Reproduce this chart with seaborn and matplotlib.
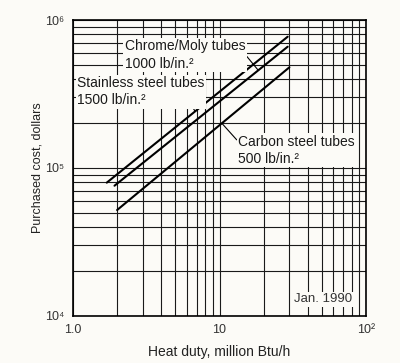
import pandas as pd
import seaborn as sns
import matplotlib.pyplot as plt

sns.set_style('white')
plt.rcParams['font.family'] = ['Liberation Sans', 'DejaVu Sans']

# end points of each cost line (log-log straight lines)
stainless_duty = [1.70, 29.2]
stainless_cost = [79600, 771000]
chrome_duty = [1.92, 29.2]
chrome_cost = [75900, 660000]
carbon_duty = [2.0, 30.0]
carbon_cost = [52000, 479000]

x_ticks = [1, 10, 100]
x_tick_labels = ['1.0', '10', '10²']
y_ticks = [1e4, 1e5, 1e6]
y_tick_labels = ['10⁴', '10⁵', '10⁶']

bg = '#fcfbf7'

df = pd.concat([
    pd.DataFrame({'duty': stainless_duty, 'cost': stainless_cost, 'tube': 'Stainless'}),
    pd.DataFrame({'duty': chrome_duty, 'cost': chrome_cost, 'tube': 'Chrome/Moly'}),
    pd.DataFrame({'duty': carbon_duty, 'cost': carbon_cost, 'tube': 'Carbon'}),
])

fig = plt.figure(figsize=(4, 3.63), dpi=100, facecolor=bg)
ax = fig.add_axes([0.1825, 0.1295, 0.7325, 0.8154])
ax.set_facecolor(bg)

sns.lineplot(data=df, x='duty', y='cost', units='tube', estimator=None,
             color='black', lw=1.5, ax=ax, zorder=3)

ax.set_xscale('log')
ax.set_yscale('log')
ax.set_xlim(1, 100)
ax.set_ylim(1e4, 1e6)
ax.grid(which='both', color='#1a1a1a', lw=0.8)
ax.tick_params(which='both', length=0, labelsize=9, colors='#333333', pad=6)
ax.set_xticks(x_ticks)
ax.set_xticklabels(x_tick_labels)
ax.set_yticks(y_ticks)
ax.set_yticklabels(y_tick_labels)
for s in ax.spines.values():
    s.set_color('black')
    s.set_linewidth(1.2)

ax.set_xlabel('Heat duty, million Btu/h', fontsize=10, color='#222222', labelpad=6)
ax.set_ylabel('Purchased cost, dollars', fontsize=9, color='#222222', labelpad=1)

box = dict(facecolor=bg, edgecolor='none', pad=1)
tkw = dict(fontsize=10, color='#1a1a1a', bbox=box, zorder=4, ha='left', va='center')
lead = dict(arrowstyle='-', color='black', lw=0.8, shrinkA=0, shrinkB=0)

ax.annotate('Chrome/Moly tubes\n1000 lb/in.²', xy=(18.3, 4.6e5), xytext=(2.26, 5.8e5),
            arrowprops=dict(relpos=(0.98, 0.6), **lead), linespacing=1.3, **tkw)
ax.annotate('Stainless steel tubes\n1500 lb/in.²', xy=(6.8, 2.42e5), xytext=(1.07, 3.27e5),
            arrowprops=dict(relpos=(0.84, 0.48), **lead), linespacing=1.25, **tkw)
ax.annotate('Carbon steel tubes\n500 lb/in.²', xy=(10.4, 2.0e5), xytext=(13.4, 1.32e5),
            arrowprops=dict(relpos=(0.0, 0.78), **lead), linespacing=1.3, **tkw)
ax.text(32.3, 1.30e4, 'Jan. 1990', fontsize=9.5, color='#333333', bbox=box, zorder=4,
        ha='left', va='center')

plt.savefig('out.png', dpi=100, facecolor=bg)
